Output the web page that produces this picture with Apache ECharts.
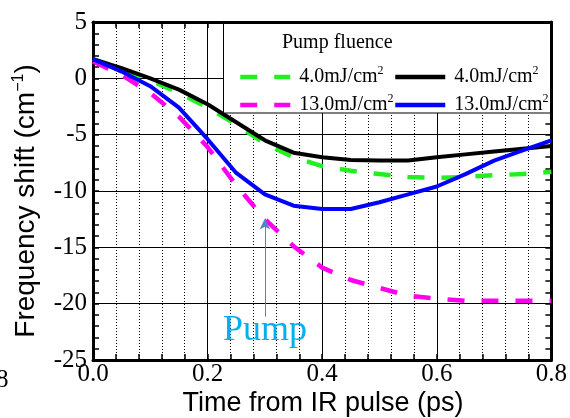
<!DOCTYPE html>
<html><head><meta charset="utf-8">
<script src="https://cdn.jsdelivr.net/npm/echarts@6/dist/echarts.min.js"></script>
<style>html,body{margin:0;padding:0;background:#fff}#c{width:570px;height:418px}</style>
</head><body><div id="c"></div>
<script>
// ---- data ----
const times     = [0, 0.05, 0.1, 0.15, 0.2, 0.25, 0.3, 0.35, 0.4, 0.45, 0.5, 0.55, 0.6, 0.65, 0.7, 0.75, 0.8];
const green4    = [1.7, 0.85, -0.2, -1.3, -2.6, -4.1, -5.8, -7.0, -7.8, -8.2, -8.5, -8.75, -8.85, -8.75, -8.6, -8.5, -8.3];
const black4    = [1.7, 0.9, 0.0, -1.0, -2.3, -3.9, -5.5, -6.6, -7.0, -7.25, -7.3, -7.3, -7.0, -6.75, -6.5, -6.25, -6.0];
const magenta13 = [1.5, 0.3, -1.3, -3.4, -6.1, -9.5, -12.5, -14.9, -16.8, -17.9, -18.6, -19.3, -19.55, -19.75, -19.75, -19.75, -19.75];
const blue13    = [1.7, 0.6, -0.7, -2.6, -5.4, -8.4, -10.3, -11.3, -11.6, -11.6, -11.0, -10.3, -9.6, -8.5, -7.3, -6.4, -5.5];
const legendLabels = { g4: '4.0mJ/cm', k4: '4.0mJ/cm', m13: '13.0mJ/cm', b13: '13.0mJ/cm' };
const legendTitle  = 'Pump fluence';
const xName = 'Time from IR pulse (ps)';
const pumpArrow = { x: 0.3, from: -21.15, to: -12.45 };
const pumpLabel = 'Pump';

const serif = '"Liberation Serif", "Times New Roman", serif';
const sans  = '"Liberation Sans", Arial, sans-serif';

const pairs = arr => times.map((t, i) => [t, arr[i]]);
const chart = echarts.init(document.getElementById('c'), null, { renderer: 'canvas' });

const legendCommon = {
  orient: 'vertical', top: 60, itemWidth: 50, itemHeight: 14, itemGap: 6,
  selectedMode: false, z: 10,
  formatter: n => '{t|' + legendLabels[n] + '}{s|2}',
  textStyle: { rich: {
    t: { fontFamily: serif, fontSize: 20, lineHeight: 24, color: '#000', padding: [0, 0, 0, 4] },
    s: { fontFamily: serif, fontSize: 12, lineHeight: 10, color: '#000', verticalAlign: 'top' }
  } },
  itemStyle: { opacity: 0 },
  lineStyle: { width: 4.5 }
};

const axisBase = {
  type: 'value',
  axisLine: { show: true, onZero: false, lineStyle: { color: '#000', width: 3 } },
  axisTick: { show: true, inside: true, length: 6, lineStyle: { color: '#000', width: 1.5 } },
  minorTick: { show: true, splitNumber: 5, length: 6, lineStyle: { color: '#000', width: 1.5 } }
};

chart.setOption({
  animation: false,
  backgroundColor: '#fff',
  grid: { left: 93, right: 18, top: 22, bottom: 58, containLabel: false },
  xAxis: [
    Object.assign({}, axisBase, {
      position: 'bottom', min: 0, max: 0.8, interval: 0.2,
      axisLabel: { formatter: v => v.toFixed(1), fontFamily: serif, fontSize: 25, color: '#000', margin: 2 },
      splitLine: { show: true, lineStyle: { color: '#000', width: 1 } },
      minorSplitLine: { show: true, lineStyle: { color: '#000', width: 1, type: [1, 2] } }
    }),
    Object.assign({}, axisBase, {
      position: 'top', min: 0, max: 0.8, interval: 0.2,
      axisLabel: { show: false }, splitLine: { show: false }
    })
  ],
  yAxis: [
    Object.assign({}, axisBase, {
      position: 'left', min: -25, max: 5, interval: 5,
      axisLabel: { fontFamily: serif, fontSize: 25, color: '#000', margin: 6 },
      splitLine: { show: true, lineStyle: { color: '#000', width: 1 } }
    }),
    Object.assign({}, axisBase, {
      position: 'right', min: -25, max: 5, interval: 5,
      axisLabel: { show: false }, splitLine: { show: false }
    })
  ],
  legend: [
    Object.assign({}, legendCommon, { left: 233, data: ['g4', 'm13'] }),
    Object.assign({}, legendCommon, { left: 388, data: ['k4', 'b13'] })
  ],
  series: [
    { name: 'g4', type: 'line', data: pairs(green4), symbol: 'none', z: 2,
      lineStyle: { color: '#22ee22', width: 4.5, type: [17, 17], cap: 'butt' }, itemStyle: { color: '#22ee22' } },
    { name: 'm13', type: 'line', data: pairs(magenta13), symbol: 'none', z: 2,
      lineStyle: { color: '#ff00ee', width: 4.5, type: [17, 17], cap: 'butt' }, itemStyle: { color: '#ff00ee' } },
    { name: 'k4', type: 'line', data: pairs(black4), symbol: 'none', z: 3,
      lineStyle: { color: '#000', width: 4 }, itemStyle: { color: '#000' } },
    { name: 'b13', type: 'line', data: pairs(blue13), symbol: 'none', z: 3,
      lineStyle: { color: '#0000ff', width: 4 }, itemStyle: { color: '#0000ff' },
      markLine: {
        silent: true, symbol: ['none', 'arrow'], symbolSize: [8, 11], animation: false,
        label: { show: false },
        lineStyle: { color: '#4f86c6', width: 1, type: 'solid' },
        data: [[{ coord: [pumpArrow.x, pumpArrow.from] }, { coord: [pumpArrow.x, pumpArrow.to] }]]
      } }
  ],
  graphic: [
    { type: 'rect', z: 5, shape: { x: 223.5, y: 23.5, width: 327, height: 89.5 },
      style: { fill: '#fff', stroke: '#000', lineWidth: 1 } },
    { type: 'text', z: 11, x: 282, y: 43, style: { text: legendTitle, font: '20px ' + serif, fill: '#000', textVerticalAlign: 'middle' } },
    { type: 'text', z: 11, x: 223, y: 331, style: { text: pumpLabel, font: '36px ' + serif, fill: '#00b0f0', textVerticalAlign: 'middle' } },
    { type: 'text', z: 11, x: 323, y: 404, style: { text: xName, font: '27px ' + sans, fill: '#000', textAlign: 'center', textVerticalAlign: 'middle' } },
    { type: 'text', z: 11, x: 26, y: 201, rotation: Math.PI / 2,
      style: { text: '{n|Frequency shift (cm}{s|−1}{n|)}', textAlign: 'center', textVerticalAlign: 'middle',
        rich: { n: { fontFamily: sans, fontSize: 28, lineHeight: 30, color: '#000' },
                s: { fontFamily: sans, fontSize: 16, lineHeight: 14, color: '#000', verticalAlign: 'top' } } } },
    { type: 'text', z: 11, x: -4, y: 380, style: { text: '8', font: '25px ' + serif, fill: '#000', textVerticalAlign: 'middle' } }
  ]
});
</script></body></html>
